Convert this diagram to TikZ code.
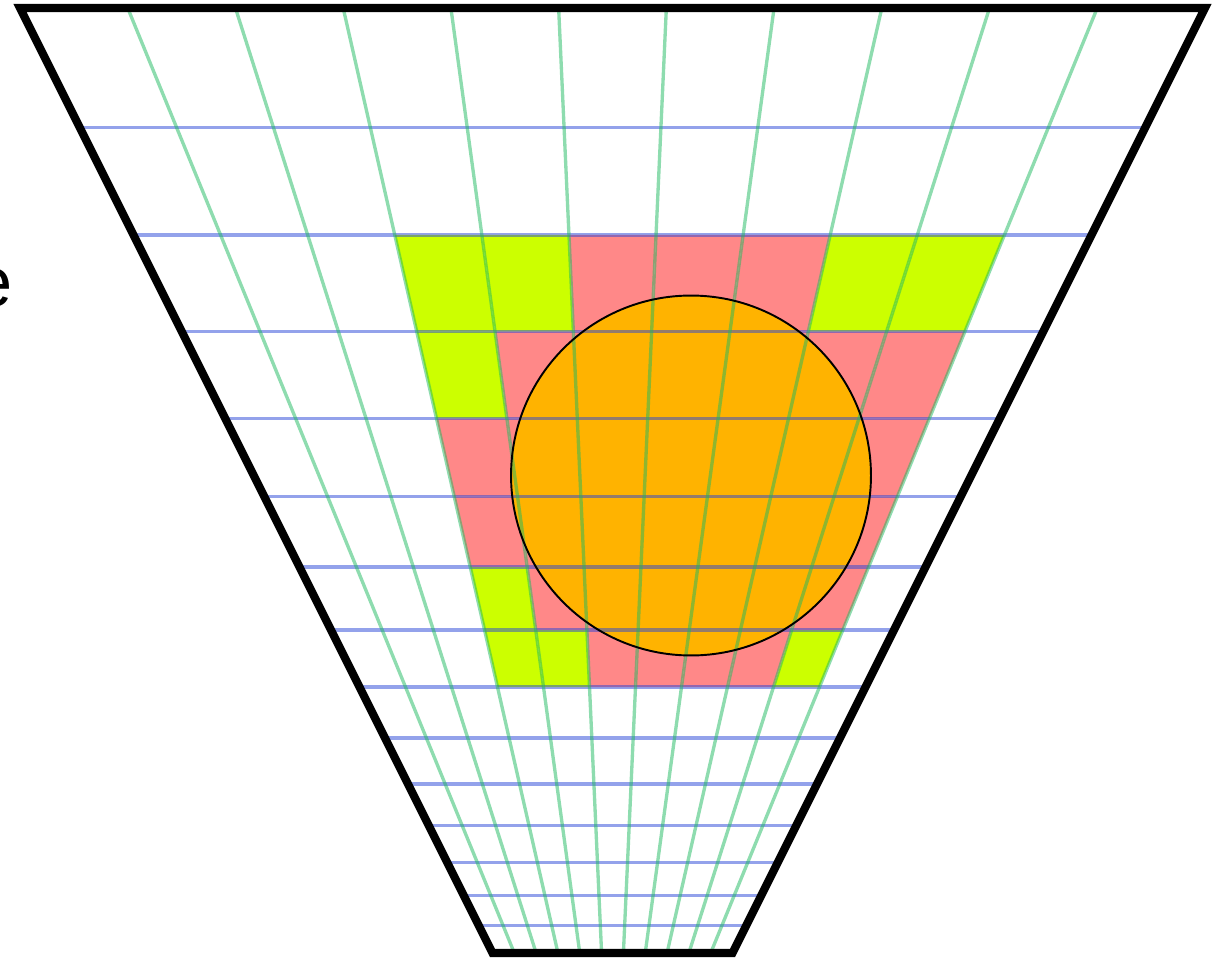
\documentclass[tikz,border=0pt]{standalone}
\usepackage{fontspec}
\setmainfont{Liberation Sans}
\definecolor{cellY}{RGB}{204,255,0}
\definecolor{cellP}{RGB}{255,136,136}
\definecolor{sphere}{RGB}{255,179,0}
\definecolor{gridG}{RGB}{30,185,95}
\definecolor{gridB}{RGB}{40,70,215}
\tikzset{
  frame/.style={line width=4.6pt, line join=miter, black},
  gline/.style={line width=1.9pt, draw=gridG, draw opacity=0.5},
  bline/.style={line width=1.9pt, draw=gridB, draw opacity=0.5},
  sph/.style={fill=sphere},
  sphline/.style={draw=black, line width=1.1pt},
}
\newcommand{\cellfill}[3]{%
  \pgfmathtruncatemacro\jj{#1+1}\pgfmathtruncatemacro\kk{#2+1}%
  \fill[#3] (p-#1-#2) -- (p-\jj-#2) -- (p-\jj-\kk) -- (p-#1-\kk) -- cycle;}
\begin{document}
\begin{tikzpicture}[x=0.02cm,y=-0.02cm]
\useasboundingbox (0,0) rectangle (1213,959);
% grid points
\foreach \k in {0,...,15} {
  \pgfmathsetmacro\d{1185*(240/1185)^(\k/15)}
  \foreach \j in {0,...,11} {
    \coordinate (p-\j-\k) at ({612.5+(\j/11-0.5)*\d}, {1193-\d});
  }
}
% cut-off label at left
\node[anchor=base east, inner sep=0pt, font=\fontsize{40}{48}\selectfont] (lbl) at (13,307) {e};
% cells
\foreach \j/\k in {3/2,4/2,8/2,9/2,3/3,3/6,3/7,4/7,9/7} {\cellfill{\j}{\k}{cellY}}
\foreach \j/\k in {5/2,6/2,7/2,4/3,5/3,6/3,7/3,8/3,9/3,3/4,4/4,5/4,6/4,7/4,8/4,9/4,3/5,4/5,5/5,6/5,7/5,8/5,9/5,4/6,5/6,6/6,7/6,8/6,9/6,5/7,6/7,7/7,8/7} {\cellfill{\j}{\k}{cellP}}
% sphere fill
\coordinate (c) at (691,475.5);
\fill[sph] (c) circle[radius=3.6cm];
% grid lines
\foreach \k in {1,...,14} {\draw[bline] (p-0-\k) -- (p-11-\k);}
\foreach \j in {1,...,10} {\draw[gline] (p-\j-0) -- (p-\j-15);}
% sphere outline
\draw[sphline] (c) circle[radius=3.6cm];
% frustum frame
\draw[frame] (p-0-0) -- (p-11-0) -- (p-11-15) -- (p-0-15) -- cycle;
\end{tikzpicture}
\end{document}
